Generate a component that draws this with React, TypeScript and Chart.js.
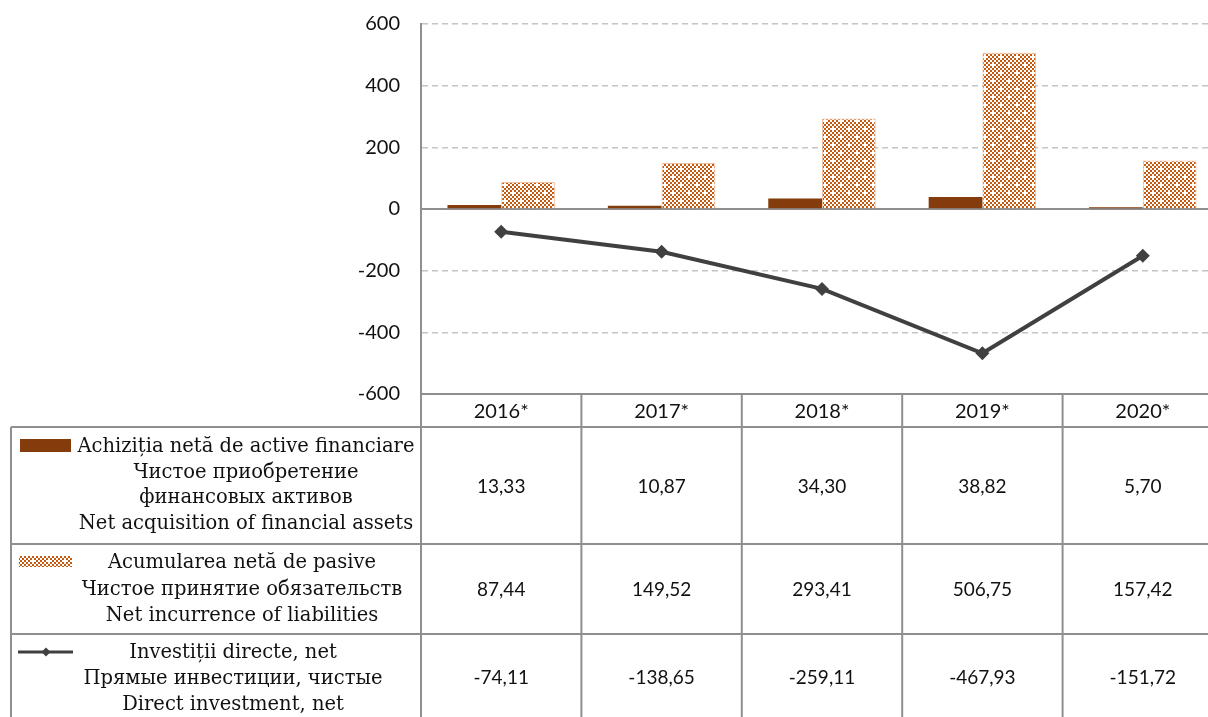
import React, { useEffect, useRef } from "react";
import { Chart, registerables } from "chart.js";

Chart.register(...registerables);

// ---------- data ----------
const categories = ["2016*", "2017*", "2018*", "2019*", "2020*"];
const acquisition = [13.33, 10.87, 34.3, 38.82, 5.7];
const liabilities = [87.44, 149.52, 293.41, 506.75, 157.42];
const directInvestment = [-74.11, -138.65, -259.11, -467.93, -151.72];
const yMin = -600;
const yMax = 600;
const yStep = 200;

const acquisitionLabel = [
  "Achiziția netă de active financiare",
  "Чистое приобретение",
  "финансовых активов",
  "Net acquisition of financial assets",
];
const liabilitiesLabel = [
  "Acumularea netă de pasive",
  "Чистое принятие обязательств",
  "Net incurrence of liabilities",
];
const directLabel = [
  "Investiții directe, net",
  "Прямые инвестиции, чистые",
  "Direct investment, net",
];

// ---------- styles / layout ----------
const BROWN = "#843C0C";
const ORANGE = "#C55A11";
const LINE = "#404040";
const GRID_GRAY = "#8f8f8f";
const NUM_FONT = '"Lato", "Open Sans", sans-serif';
const LABEL_FONT = '"DejaVu Serif", serif';

function makePattern(): CanvasPattern | string {
  const tile = document.createElement("canvas");
  tile.width = 16;
  tile.height = 16;
  const t = tile.getContext("2d");
  if (!t) return ORANGE;
  t.fillStyle = "#ffffff";
  t.fillRect(0, 0, 16, 16);
  t.fillStyle = ORANGE;
  for (let i = 0; i < 8; i++) {
    for (let j = 0; j < 8; j++) {
      const isHole = (i === 0 && j === 0) || (i === 4 && j === 4);
      if ((i + j) % 2 === 0 && !isHole) t.fillRect(i * 2, j * 2, 2, 2);
    }
  }
  const main = document.createElement("canvas").getContext("2d");
  const p = main ? main.createPattern(tile, "repeat") : null;
  return p || ORANGE;
}

const fmt = (v: number) => v.toFixed(2).replace(".", ",");

export default function App() {
  const ref = useRef<HTMLCanvasElement | null>(null);

  useEffect(() => {
    const canvas = ref.current;
    if (!canvas) return;
    const pattern = makePattern();

    const zeroLine = {
      id: "zeroLine",
      beforeDatasetsDraw(chart: any) {
        const { ctx, chartArea, scales } = chart;
        const y = scales.y.getPixelForValue(0);
        ctx.save();
        ctx.strokeStyle = GRID_GRAY;
        ctx.lineWidth = 2;
        ctx.beginPath();
        ctx.moveTo(chartArea.left, y);
        ctx.lineTo(chartArea.right, y);
        ctx.stroke();
        ctx.restore();
      },
    };

    const dataTable = {
      id: "dataTable",
      afterDraw(chart: any) {
        const { ctx, chartArea, scales } = chart;
        const x = scales.x;
        const step = x.getPixelForValue(1) - x.getPixelForValue(0);
        const left0 = x.getPixelForValue(0) - step / 2;
        const W = chart.width;
        const H = chart.height;
        const top = chartArea.bottom;
        const tableLeft = 11;
        const headerBottom = top + 33;
        const row1Bottom = headerBottom + 117;
        const row2Bottom = row1Bottom + 90;
        const row3Bottom = row2Bottom + 88;

        ctx.save();
        ctx.strokeStyle = GRID_GRAY;
        ctx.lineWidth = 2;
        ctx.beginPath();
        ctx.moveTo(left0, top);
        ctx.lineTo(W, top);
        for (const yy of [headerBottom, row1Bottom, row2Bottom]) {
          ctx.moveTo(tableLeft, yy);
          ctx.lineTo(W, yy);
        }
        ctx.moveTo(tableLeft, headerBottom);
        ctx.lineTo(tableLeft, H);
        for (let i = 0; i <= categories.length; i++) {
          const xx = left0 + i * step;
          ctx.moveTo(xx, top);
          ctx.lineTo(xx, H);
        }
        ctx.stroke();

        // header years
        ctx.fillStyle = "#111";
        ctx.textAlign = "center";
        ctx.textBaseline = "middle";
        ctx.font = `20px ${NUM_FONT}`;
        categories.forEach((c, i) => {
          ctx.fillText(c, x.getPixelForValue(i), (top + headerBottom) / 2 + 1);
        });

        // values
        ctx.font = `19px ${NUM_FONT}`;
        const rows = [
          { vals: acquisition, cy: (headerBottom + row1Bottom) / 2 + 1 },
          { vals: liabilities, cy: (row1Bottom + row2Bottom) / 2 + 1 },
          { vals: directInvestment, cy: (row2Bottom + row3Bottom) / 2 },
        ];
        rows.forEach((r) => {
          r.vals.forEach((v, i) => {
            ctx.fillText(fmt(v), x.getPixelForValue(i), r.cy);
          });
        });

        // row labels
        ctx.font = `19.5px ${LABEL_FONT}`;
        ctx.fillStyle = "#111";
        const labelRows = [
          { lines: acquisitionLabel, cx: 246, y0: headerBottom + 20, dy: 25.5 },
          { lines: liabilitiesLabel, cx: 242, y0: row1Bottom + 19, dy: 26.5 },
          { lines: directLabel, cx: 233, y0: row2Bottom + 19, dy: 26 },
        ];
        labelRows.forEach((lr) => {
          lr.lines.forEach((s, k) => ctx.fillText(s, lr.cx, lr.y0 + k * lr.dy));
        });

        // legend keys
        ctx.fillStyle = BROWN;
        ctx.fillRect(20, headerBottom + 12, 51, 13);
        ctx.fillStyle = pattern as any;
        ctx.fillRect(19, row1Bottom + 12, 53, 11);
        const ly = row2Bottom + 18;
        ctx.strokeStyle = LINE;
        ctx.lineWidth = 3;
        ctx.beginPath();
        ctx.moveTo(18, ly);
        ctx.lineTo(73, ly);
        ctx.stroke();
        ctx.fillStyle = LINE;
        ctx.beginPath();
        ctx.moveTo(46 - 4.5, ly);
        ctx.lineTo(46, ly - 4.5);
        ctx.lineTo(46 + 4.5, ly);
        ctx.lineTo(46, ly + 4.5);
        ctx.closePath();
        ctx.fill();
        ctx.restore();
      },
    };

    const chart = new Chart(canvas, {
      type: "bar",
      data: {
        labels: categories,
        datasets: [
          {
            type: "line",
            label: directLabel[0],
            data: directInvestment,
            borderColor: LINE,
            backgroundColor: LINE,
            borderWidth: 4,
            pointStyle: "rectRot",
            pointRadius: 7,
            pointBackgroundColor: LINE,
            pointBorderWidth: 0,
            order: 0,
          } as any,
          {
            type: "bar",
            label: acquisitionLabel[0],
            data: acquisition,
            backgroundColor: BROWN,
            borderWidth: 0,
            categoryPercentage: 0.67,
            barPercentage: 1,
            order: 1,
          } as any,
          {
            type: "bar",
            label: liabilitiesLabel[0],
            data: liabilities,
            backgroundColor: pattern as any,
            borderColor: "rgba(237,140,80,0.55)",
            borderWidth: 1,
            categoryPercentage: 0.67,
            barPercentage: 1,
            order: 1,
          } as any,
        ],
      },
      options: {
        animation: false,
        responsive: false,
        devicePixelRatio: 1,
        layout: { padding: { left: 0, right: 6.5, top: 24, bottom: 323 } },
        plugins: {
          legend: { display: false },
          tooltip: { enabled: false },
        },
        scales: {
          x: { display: false },
          y: {
            min: yMin,
            max: yMax,
            afterFit: (scale: any) => {
              scale.width = 421;
              scale.paddingTop = 0;
              scale.paddingBottom = 0;
            },
            ticks: {
              stepSize: yStep,
              padding: 21,
              color: "#111",
              font: { family: NUM_FONT, size: 20 },
            },
            grid: {
              drawTicks: false,
              lineWidth: 1.5,
              color: (c: any) =>
                c.tick && (c.tick.value === 0 || c.tick.value === yMin)
                  ? "rgba(0,0,0,0)"
                  : "#c4c4c4",
            },
            border: { display: true, color: GRID_GRAY, width: 2, dash: [6, 4] },
          },
        },
      },
      plugins: [zeroLine, dataTable],
    } as any);

    return () => chart.destroy();
  }, []);

  return (
    <div
      style={{
        position: "fixed",
        left: 0,
        top: 0,
        width: 1208,
        height: 717,
        overflow: "hidden",
        background: "#fff",
      }}
    >
      <canvas ref={ref} width={1230} height={717} style={{ display: "block" }} />
    </div>
  );
}
